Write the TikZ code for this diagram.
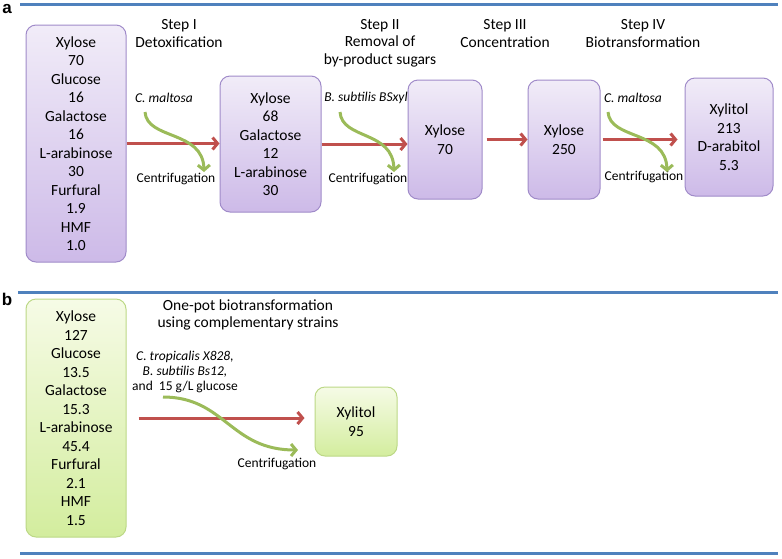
\documentclass[tikz,border=0pt]{standalone}
\usepackage{fontspec}
\setmainfont{Carlito}
\setsansfont{Liberation Sans}
\usetikzlibrary{arrows.meta, positioning, calc}
\definecolor{ruleblue}{HTML}{4F81BD}
\definecolor{flowred}{HTML}{C0504D}
\definecolor{flowgreen}{HTML}{9BBB59}
\definecolor{purpleline}{HTML}{A08BC9}
\definecolor{purpletop}{HTML}{F1ECF8}
\definecolor{purplebottom}{HTML}{CDBAE8}
\definecolor{greenline}{HTML}{BCD886}
\definecolor{greentop}{HTML}{F6FBE6}
\definecolor{greenbottom}{HTML}{D3ED9E}
\tikzset{
    block/.style={rectangle, draw=purpleline, line width=1pt, rounded corners=10pt, top color=purpletop, bottom color=purplebottom, align=center, inner sep=0pt, font=\fontsize{15.5}{18.5}\selectfont},
    greenblock/.style={block, draw=greenline, top color=greentop, bottom color=greenbottom},
    arrow/.style={draw=flowred, line width=3pt, -{Straight Barb[length=5pt, width=12pt]}},
    sidearrow/.style={draw=flowgreen, line width=3pt, -{Straight Barb[length=5pt, width=12pt]}},
    steplabel/.style={align=center, font=\fontsize{15.5}{17.5}\selectfont},
    strain/.style={align=center, font=\fontsize{13.5}{15}\selectfont\itshape},
    note/.style={font=\fontsize{13.5}{15}\selectfont},
    rule/.style={draw=ruleblue, line width=3pt},
    panel/.style={inner sep=0pt, font=\sffamily\bfseries\fontsize{17}{17}\selectfont}
}
\begin{document}
\begin{tikzpicture}[x=1pt, y=-1pt]
    \useasboundingbox (0,0) rectangle (782,558);
    \draw[rule] (20,4) -- (778,4);
    \draw[rule] (18,292) -- (778,292);
    \draw[rule] (20,553) -- (778,553);
    \node[panel] (pa) at (7,9) {a};
    \node[panel] (pb) at (7,299) {b};

    \node[block, minimum width=100pt, minimum height=237pt] (feed) at (76,143.5) {Xylose\\70\\Glucose\\16\\Galactose\\16\\L-arabinose\\30\\Furfural\\1.9\\HMF\\1.0};
    \node[block, minimum width=101pt, minimum height=136pt] (detox) at (270.5,144) {Xylose\\68\\Galactose\\12\\L-arabinose\\30};
    \node[block, minimum width=74pt, minimum height=119pt] (clean) at (445,139.5) {Xylose\\70};
    \node[block, minimum width=72pt, minimum height=119pt] (conc) at (564,139.5) {Xylose\\250};
    \node[block, minimum width=88pt, minimum height=118pt] (prod) at (729,137) {Xylitol\\213\\D-arabitol\\5.3};

    \node[steplabel] (step1) at (179,33.5) {Step I\\Detoxification};
    \node[steplabel] (step2) at (380,43) {Step II\\Removal of\\by-product sugars};
    \node[steplabel] (step3) at (505,33.5) {Step III\\Concentration};
    \node[steplabel] (step4) at (643,33.5) {Step IV\\Biotransformation};

    \node[strain] (maltosa1) at (164,98) {C. maltosa};
    \node[strain] (subtilis) at (366,98) {B. subtilis BSxyl};
    \node[strain] (maltosa2) at (633,98) {C. maltosa};
    \node[note] (centri1) at (176,179) {Centrifugation};
    \node[note] (centri2) at (368,179) {Centrifugation};
    \node[note] (centri3) at (644,177) {Centrifugation};

    \coordinate (g1a) at (145,112);
    \coordinate (g1b) at (204,172);
    \coordinate (g2a) at (340,112);
    \coordinate (g2b) at (394,172);
    \coordinate (g3a) at (608,112);
    \coordinate (g3b) at (667,172);

    \draw[arrow] (feed.east) -- (feed.east -| detox.west);
    \draw[arrow] (detox.east) -- (detox.east -| clean.west);
    \draw[arrow, shorten <=4pt] (clean.east) -- (clean.east -| conc.west);
    \draw[arrow, shorten <=2pt, shorten >=7pt] (conc.east) -- (conc.east -| prod.west);

    \draw[sidearrow] (g1a) .. controls ($(g1a)+(2,28)$) and ($(g1b)+(-1,-42)$) .. (g1b);
    \draw[sidearrow] (g2a) .. controls ($(g2a)+(2,28)$) and ($(g2b)+(-1,-42)$) .. (g2b);
    \draw[sidearrow] (g3a) .. controls ($(g3a)+(2,28)$) and ($(g3b)+(-1,-42)$) .. (g3b);

    \node[greenblock, minimum width=100pt, minimum height=238pt] (raw) at (76,418) {Xylose\\127\\Glucose\\13.5\\Galactose\\15.3\\L-arabinose\\45.4\\Furfural\\2.1\\HMF\\1.5};
    \node[greenblock, minimum width=82pt, minimum height=69pt] (xylitol) at (356,421.5) {Xylitol\\95};
    \node[steplabel, font=\fontsize{15.5}{16.5}\selectfont] (onepot) at (248,315) {One-pot biotransformation\\using complementary strains};
    \node[note, align=center] (strains) at (185,372) {\itshape C. tropicalis X828,\\\itshape B. subtilis Bs12,\\and~~15 g/L glucose};
    \node[note] (centrib) at (277,464) {Centrifugation};

    \coordinate (gba) at (163,397);
    \coordinate (gbb) at (298,450);
    \draw[arrow, shorten <=12pt, shorten >=10pt] (raw.east) -- (raw.east -| xylitol.west);
    \draw[sidearrow] (gba) .. controls ($(gba)+(62,0)$) and ($(gbb)+(-68,0)$) .. (gbb);
\end{tikzpicture}
\end{document}
